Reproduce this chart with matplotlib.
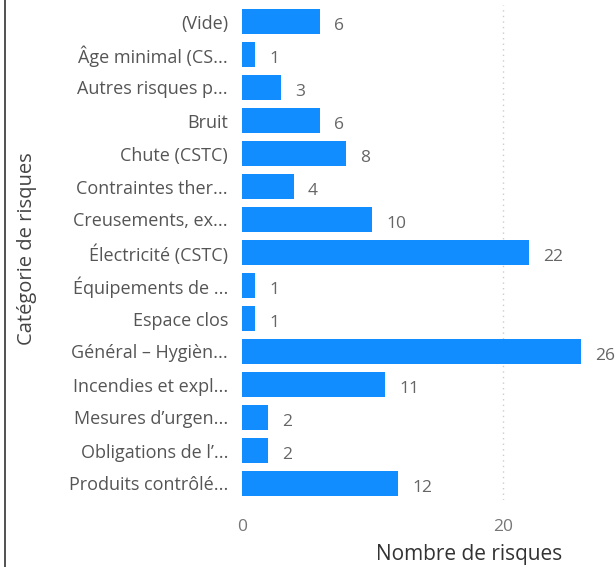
import matplotlib
matplotlib.use("Agg")
import matplotlib.pyplot as plt
from matplotlib.lines import Line2D

categories = [
    "(Vide)", "Âge minimal (CS...", "Autres risques p...", "Bruit", "Chute (CSTC)",
    "Contraintes ther...", "Creusements, ex...", "Électricité (CSTC)", "Équipements de ...",
    "Espace clos", "Général – Hygièn...", "Incendies et expl...", "Mesures d’urgen...",
    "Obligations de l’...", "Produits contrôlé...",
]
counts = [6, 1, 3, 6, 8, 4, 10, 22, 1, 1, 26, 11, 2, 2, 12]
x_ticks = [0, 20]

W, H = 616, 567
fig = plt.figure(figsize=(W / 100, H / 100), dpi=100)
plt.rcParams["font.family"] = ["Open Sans", "DejaVu Sans"]

# axes placed in pixel coordinates
left_px, right_px, top_px, bottom_px = 242, 607, 5, 500
ax = fig.add_axes([left_px / W, 1 - bottom_px / H, (right_px - left_px) / W, (bottom_px - top_px) / H])

ypos = list(range(len(categories)))
ax.barh(ypos, counts, height=0.76, color="#118DFF", zorder=3)
ax.set_ylim(len(categories) - 0.5, -0.5)
ax.set_xlim(0, 28)

for y, v in zip(ypos, counts):
    ax.annotate(str(v), (v, y), xytext=(10, -3), textcoords="offset points",
                va="center", ha="left", fontsize=12.5, color="#666666")

ax.set_yticks(ypos)
ax.set_yticklabels(categories, fontsize=13, color="#555555")
ax.set_xticks(x_ticks)
ax.set_xticklabels([str(t) for t in x_ticks], fontsize=12.5, color="#777777")
ax.tick_params(axis="both", length=0)
ax.tick_params(axis="y", pad=10)
ax.tick_params(axis="x", pad=14)

for s in ax.spines.values():
    s.set_visible(False)

ax.axvline(20, color="#cccccc", linestyle=(0, (1, 3)), linewidth=1, zorder=1)

ax.set_xlabel("Nombre de risques", fontsize=15, color="#333333")
ax.xaxis.set_label_coords((469 - left_px) / (right_px - left_px), -(544 - bottom_px) / (bottom_px - top_px))
ax.set_ylabel("Catégorie de risques", fontsize=14.5, color="#444444")
ax.yaxis.set_label_coords(-(left_px - 37) / (right_px - left_px), (bottom_px - 249) / (bottom_px - top_px))

# left frame line
fig.add_artist(Line2D([5 / W, 5 / W], [0, 1], color="#333333", linewidth=1.2, transform=fig.transFigure))

fig.savefig("out.png", dpi=100)
